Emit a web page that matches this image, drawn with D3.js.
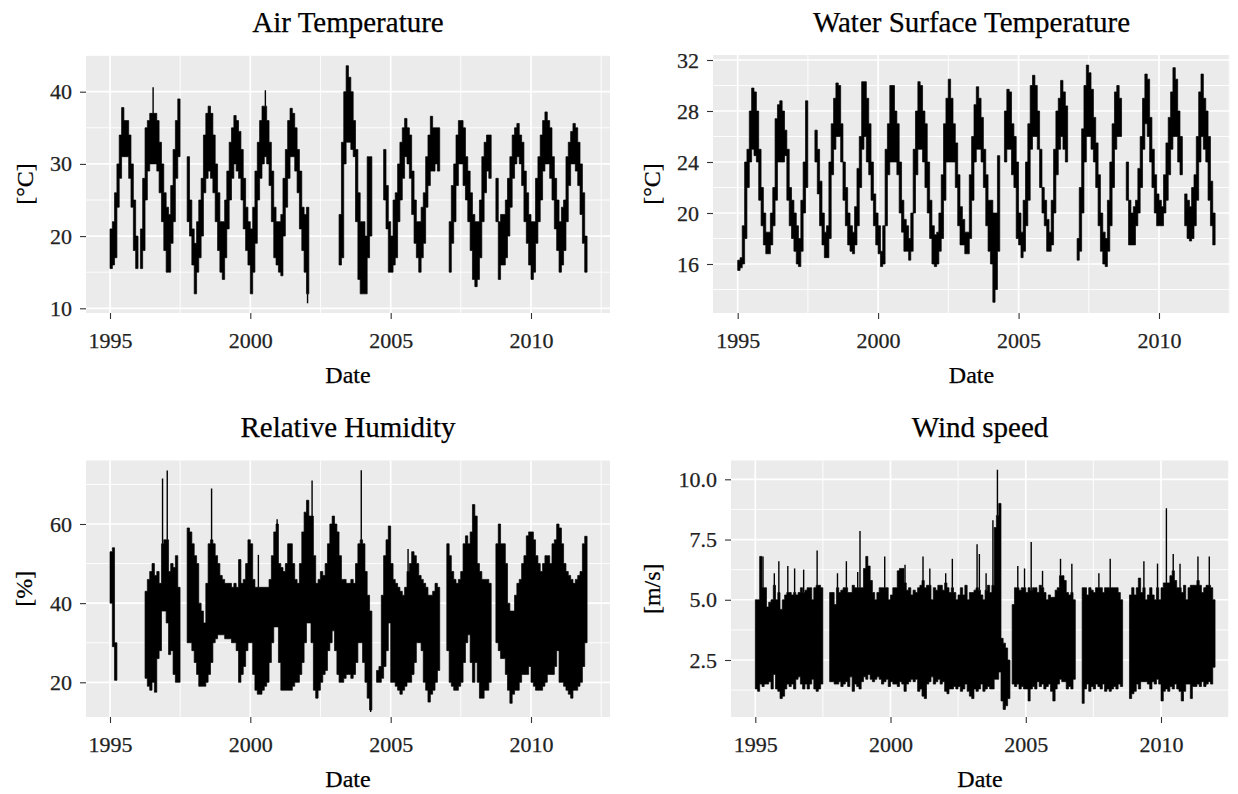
<!DOCTYPE html>
<html>
<head>
<meta charset="utf-8">
<script src="https://cdn.jsdelivr.net/npm/d3@7"></script>
<style>
  body { margin: 0; background: #fff; }
  text { font-family: "Liberation Serif", "Times New Roman", serif; }
</style>
</head>
<body>
<svg id="chart"></svg>
<script>
const W = 1238, H = 794;
const N = null;

// monthly values, Jan 1995 .. Dec 2011 (low / high of each month)
const firstMonth = "1995-01", lastMonth = "2011-12";
const xTicks = [1995, 2000, 2005, 2010];

const airTicks = [10, 20, 30, 40];
const airLo = [
  15.5,16,17,24,28,31,31,31,28,24,18,15.5,
  N,15.5,18,25,29,30,30,30,29,26,22,18,
  15,15,19,22,28,31,N,N,N,22,20,16,
  12,15,17,20,26,28,29,28,26,22,18,15,
  14,17,21,25,28,30,29,28,25,21,18,16,
  12,15,19,25,28,30,31,30,27,22,17,16,
  15,14.5,20,24,28,31,31,29,26,21,18,15,
  12,N,N,N,N,N,N,N,N,N,N,N,
  N,N,16,17,30,33,33,32,31,22,14,12,
  12,12,17,20,N,N,N,N,N,25,21,15,
  15,16,17,22,25,28,31,30,28,23,19,17,
  15,17,19,24,27,29,29,30,29,N,N,N,
  N,15,19,22,27,30,30,27,25,22,18,14,
  13,14,17,22,26,29,28,N,N,22,14,16,
  16,17,20,24,28,30,31,30,27,22,19,16,
  14,15,19,22,25,29,30,30,28,25,21,18,
  15,16,18,22,27,30,30,29,27,23,19,15
];
const airHi = [
  21,22,26,30,34,37.8,36,36,34,30,25,20,
  N,21,28,35,36,37,37,37,36,33,30,26,
  24,23,27,32,36,39,N,N,N,31,25,21,
  19,22,25,28,34,37,38,37,34,30,26,22,
  22,25,29,33,35,36.7,36,34.5,32,28,24,22,
  21,24,29,33,36,38,38,36,33,29,24,22,
  22,23,28,32,36,37.7,37,35,32,29,24,23,
  24,N,N,N,N,N,N,N,N,N,N,N,
  N,N,23,33,40,43.6,42,40,36,32,26,22,
  22,20,31,31,N,N,N,N,N,32,27,22,
  20,25,26,30,33,35,36.3,35,34,29,25,22,
  22,24,26,31,34,36.6,35,35,35,N,N,N,
  N,22,27,30,34,36,36,35,31,29,26,23,
  22,22,25,31,33,34,34,N,N,28,22,23,
  23,25,28,31,34,35,35.6,34,33,29,26,23,
  22,22,28,31,34,36,37.2,36,35,31,28,25,
  22,24,25,31,33,34.5,35.6,35,33,30,26,20
];
const airSpikes = [["1996-07", 40.6], ["2000-07", 40.2], ["2002-01", 10.7]];

const waterTicks = [16, 20, 24, 28, 32];
const waterLo = [
  15.5,15.7,16,18,22,24,25,24.5,24,21,19,17.5,
  16.8,16.8,17.5,19,21,24,24,24,24.5,21,19,18,
  17,16,15.8,17,20,22,N,N,N,24,21.5,19,
  17.5,16.5,16.5,18,23,25,26,26,24,21,19,17.5,
  17,16.8,17.5,19,22,25,26,24,23,21,19,17.5,
  16.8,15.8,16,19,23,24,24,24,23,20,18.5,17,
  17,16.3,17,20,23,25,25,24,22,20,18,16,
  15.8,16,17,18,21,24,24,24,24,22,19,17.5,
  17.5,16.8,16.8,18,21,24,25,25,24,22,19,17,
  16,13,14,17,N,N,24,25,25,23,22,18,
  17.5,16.5,17,19,21,25,26,26,25,22,20,19,
  17,17,17.5,20,23,25,26,25,24,N,N,N,
  N,16.3,17,20,24,26,26,25,24,22,19,17,
  16,15.8,17,19,22,25,26,26,N,N,21,17.5,
  17.5,17.5,19,20,22,25,27,26,24,22,20,19,
  19,19,20,21,23,25,26,26,24,23,N,19,
  18,17.8,18,19,21,24,26,25,24,21,19,17.5
];
const waterHi = [
  16.3,16.5,19,24,25,28,29.8,29.5,28,25,22,20,
  18.5,18.5,20,22,27.4,28.5,28.8,28,26.5,25,22,21,
  20,19,18,21,24,28.8,N,N,N,26.5,25,22.5,
  20,18.5,19,24,27,29,30.2,30,27,24,22,20,
  19,18.5,20.5,23.5,26,30.3,30.3,29,27,24,21.5,20,
  19,17,19,25,27,30,30,28,27,24,21,19.5,
  19,18,20,25,28,30.3,30,28,27,24,21,19,
  18.3,18.5,20,23,27,29,30.5,29,27,25.5,23,20.5,
  19.5,18.5,18.5,23,26,28.5,29.9,29,27.5,25,23,21,
  21,20,20,24.5,N,N,28,29.7,29.5,27,26,24,
  20,18.5,21,24,27,30,30.8,30,28,25,22,21,
  19.5,18.5,21,25,28,29,30.4,29.5,28.4,N,N,N,
  N,18,22,26.6,30,31.6,31,29.7,27.5,25.5,23,20,
  18.5,18,21,24,27,29.5,30,29,N,N,24,21,
  20,20.5,21,23.5,26,29,30.9,30.5,27.5,25,23,21.5,
  21,20.5,23,25.5,27.5,29.5,31.4,30.5,28,26,N,21.5,
  21,20.5,22,23,26,29.5,30.9,29,28,26,22.5,20
];
const waterSpikes = [];

const rhTicks = [20, 40, 60];
const rhLo = [
  40,29,20.5,N,N,N,N,N,N,N,N,N,
  N,N,N,21,19,18,20,17.5,26,28,38,38,
  35,27,28,22,20,20,N,N,N,30,30,28,
  25,22,19,19,19,20,22,25,30,31,32,32,
  32,31,31,31,30,30,28,20,22,24,28,30,
  30,22,18,17,17,18,19,20,25,30,34,34,
  25,18,18,18,18,18,19,20,20,22,25,30,
  35,35,30,18,16,18,20,22,23,28,30,33,
  28,22,20,20,21,22,22,21,22,25,30,30,
  25,20,16,13,N,N,20,20,21,24,28,35,
  20,20,19,18,17,18,19,20,20,22,25,30,
  30,28,20,18,15,17,18,20,23,N,N,N,
  28,20,19,18,18,19,20,25,30,32,25,20,
  25,20,16,16,18,18,20,N,N,30,28,26,
  26,22,18,14.7,17,18,18,20,22,22,22,24,
  20,19,18,18,18,19,20,22,22,22,24,28,
  20,20,19,18,17,16,18,18,19,20,24,30
];
const rhHi = [
  53,54,30,N,N,N,N,N,N,N,N,N,
  N,N,N,43,46,48,50,47,48,45,55,56,
  56,48,50,49,52,44,N,N,N,59,58,55,
  52,50,40,38,35,45,55,56,55,52,50,47,
  46,45,45,45,44,45,44,51,45,46,50,56,
  55,46,44,44,44,44,44,44,46,52,58,60,
  50,49,48,50,55,55,50,46,45,50,58,63,
  66,62,62,52,45,46,48,47,50,55,60,62,
  60,58,52,46,46,45,45,46,45,50,55,56,
  55,48,42,38,N,N,23,24,42,52,56,59.5,
  50,46,45,44,43,42,44,48,50,53,52,50,
  47,46,45,44,42,42,43,45,44,N,N,N,
  55,52,48,46,45,46,48,55,57,55,58,64.9,
  62,50,48,46,46,46,45,N,N,55,60,55,
  55,50,40,38,38,42,45,46,50,52,57,58,
  58,56,52,50,48,50,52,52,50,55,56,60,
  59,55,50,48,47,46,45,46,47,48,55,56.9
];
const rhSpikes = [["1996-11", 71.5], ["1997-01", 73.5], ["1998-08", 69], ["2000-04", 52.2],
  ["2000-12", 61.2], ["2002-03", 71], ["2003-12", 73.6], ["2004-04", 12.5], ["2005-08", 53.7]];

const windTicks = [2.5, 5, 7.5, 10];
const windLo = [
  1.3,1.2,1.5,1.4,1.5,1.5,1.6,1.3,1.9,1.3,1.2,0.9,
  1.0,1.3,1.5,1.4,1.5,1.3,1.7,1.8,1.5,1.3,1.5,1.3,
  1.5,1.7,1.3,1.2,1.3,1.5,N,N,N,1.6,1.6,1.5,
  1.5,1.6,1.4,1.5,1.6,1.4,1.8,1.2,1.5,1.4,1.3,1.6,
  1.8,1.7,1.9,1.7,1.6,1.7,1.8,1.7,1.5,1.6,1.7,1.4,
  1.6,1.5,1.5,1.4,1.6,1.5,1.2,1.5,1.6,1.7,1.6,1.7,
  1.2,1.3,1.0,0.9,1.5,1.6,1.8,1.5,1.6,1.7,1.5,1.6,
  1.2,1.1,1.3,1.3,1.4,1.3,1.4,1.2,1.3,1.5,1.2,1.0,
  0.9,1.3,1.2,1.3,1.5,1.2,1.3,1.4,1.3,1.3,1.7,1.7,
  2.0,0.8,0.45,0.6,0.9,N,1.5,1.4,1.5,1.3,1.4,1.3,
  1.3,0.8,1.3,1.4,1.3,1.6,1.4,1.5,1.3,1.4,1.5,1.2,
  0.8,1.3,1.5,1.7,1.6,1.6,1.3,1.4,1.3,1.7,N,N,
  N,0.7,1.3,1.5,1.2,1.4,1.3,1.5,1.4,1.3,1.5,1.2,
  1.3,1.2,1.3,1.4,1.3,1.5,1.4,N,N,N,0.9,1.1,
  1.2,1.5,1.3,1.6,1.6,1.6,1.5,1.3,1.6,1.5,1.7,1.5,
  0.8,1.2,1.3,1.2,1.4,1.3,1.5,1.3,1.2,0.8,1.2,1.5,
  1.5,0.9,1.4,1.4,1.5,1.4,1.6,1.4,1.5,1.6,1.5,2.2
];
const windHi = [
  5.0,5.0,6.8,5.5,5.5,4.7,4.9,5.0,5.6,5.0,5.3,4.6,
  5.0,5.2,5.3,5.3,5.2,5.3,5.2,5.3,5.5,5.3,5.4,5.5,
  5.5,5.0,5.5,5.6,5.6,5.5,N,N,N,5.3,5.3,4.8,
  5.5,5.3,5.4,5.5,5.5,5.3,5.3,5.6,5.5,5.5,5.5,5.5,
  6.3,6.8,6.4,5.8,5.3,5.0,5.3,5.5,5.5,5.5,5.5,5.0,
  5.2,5.5,5.5,6.2,6.3,6.3,5.7,5.4,5.5,5.2,5.4,5.3,
  5.5,5.6,5.8,5.5,5.6,5.6,5.0,5.5,5.4,5.6,5.6,5.4,
  5.7,5.5,5.3,5.5,5.3,5.0,5.2,5.5,5.2,5.6,5.0,5.3,
  5.3,5.4,5.5,5.4,5.2,5.0,5.4,5.6,5.3,5.6,8.0,8.5,
  9.0,3.4,3.2,3.0,2.5,N,4.8,5.5,5.5,5.4,5.5,5.5,
  5.3,5.5,5.4,5.5,5.5,5.3,5.6,5.5,5.3,5.0,5.2,5.1,
  5.1,5.4,5.5,6.0,6.0,5.8,5.3,5.2,5.3,5.0,N,N,
  N,5.5,5.5,5.2,5.5,5.4,5.3,5.5,5.5,5.5,5.3,5.5,
  5.5,5.5,5.5,5.5,5.5,5.3,5.0,N,N,N,5.2,5.5,
  5.2,5.5,5.9,5.3,5.5,5.0,5.2,5.5,5.2,5.0,5.5,5.0,
  5.5,5.7,5.7,5.7,6.0,6.2,5.8,5.5,5.5,5.3,5.6,5.0,
  5.5,5.6,5.6,5.6,5.8,5.6,5.3,5.5,5.6,5.6,5.5,5.0
];
const windSpikes = [["1995-04",6.8],["1995-09",6.1],["1995-11",6.6],["1996-03",6.4],["1996-06",6.3],
  ["1996-10",6.25],["1997-04",7.05],["1998-01",6.1],["1998-05",6.6],["1998-10",6.15],["1998-11",7.85],
  ["1999-10",6.8],["2000-07",6.45],["2001-03",6.8],["2001-06",6.3],["2002-01",6.1],["2002-04",6.7],
  ["2003-03",7.3],["2003-04",6.9],["2003-07",6.1],["2003-10",8.3],["2003-12",10.4],["2004-09",6.4],
  ["2004-12",6.3],["2005-03",7.4],["2005-08",6.2],["2006-04",6.7],["2006-09",6.5],["2007-09",6.1],
  ["2008-02",6.7],["2009-05",6.6],["2009-11",6.5],["2010-03",8.8],["2010-06",6.9],["2010-09",6.5],
  ["2011-05",6.8],["2011-10",6.8]];

const parseMonth = d3.timeParse("%Y-%m");
const months = d3.timeMonth.range(parseMonth(firstMonth), d3.timeMonth.offset(parseMonth(lastMonth), 1));

const panels = [
  { title: "Air Temperature", ylab: "[°C]", lo: airLo, hi: airHi, spikes: airSpikes, ticks: airTicks,
    fmt: d3.format("d"), box: [86, 610, 55, 313], xPx: [110, 531], yPx: [308.3, 91.7], ylabX: 33, titleY: 32 },
  { title: "Water Surface Temperature", ylab: "[°C]", lo: waterLo, hi: waterHi, spikes: waterSpikes, ticks: waterTicks,
    fmt: d3.format("d"), box: [713, 1230, 55, 313], xPx: [737.7, 1159], yPx: [264, 60], ylabX: 660, titleY: 32 },
  { title: "Relative Humidity", ylab: "[%]", lo: rhLo, hi: rhHi, spikes: rhSpikes, ticks: rhTicks,
    fmt: d3.format("d"), box: [86, 610, 460.5, 717], xPx: [110, 531], yPx: [682.3, 524], ylabX: 32, titleY: 437 },
  { title: "Wind speed", ylab: "[m/s]", lo: windLo, hi: windHi, spikes: windSpikes, ticks: windTicks,
    fmt: d3.format(".1f"), box: [731, 1229, 460.5, 717], xPx: [755.3, 1161], yPx: [660, 479.3], ylabX: 660, titleY: 437 }
];

const svg = d3.select("#chart").attr("width", W).attr("height", H);
svg.append("rect").attr("width", W).attr("height", H).attr("fill", "#fff");

panels.forEach((p, pi) => {
  const [x0, x1, y0, y1] = p.box;
  const x = d3.scaleTime()
    .domain([new Date(xTicks[0], 0, 1), new Date(xTicks[xTicks.length - 1], 0, 1)])
    .range(p.xPx);
  const y = d3.scaleLinear()
    .domain([p.ticks[0], p.ticks[p.ticks.length - 1]])
    .range(p.yPx);

  const g = svg.append("g");
  g.append("rect").attr("x", x0).attr("y", y0).attr("width", x1 - x0).attr("height", y1 - y0)
    .attr("fill", "#ebebeb");

  // grid
  const step = p.ticks[1] - p.ticks[0];
  const vTop = y.invert(y0), vBot = y.invert(y1);
  const yMinor = d3.range(p.ticks[0] - step * 5.5, vTop + step, step).filter(v => v > vBot && v < vTop);
  const xMinor = [1992, 1997, 2002, 2007, 2012].map(yr => new Date(yr, 6, 2))
    .filter(d => x(d) > x0 && x(d) < x1);
  const xMajor = xTicks.map(yr => new Date(yr, 0, 1));

  g.selectAll(".ymin").data(yMinor).join("line")
    .attr("x1", x0).attr("x2", x1).attr("y1", d => y(d)).attr("y2", d => y(d))
    .attr("stroke", "#fff").attr("stroke-width", 0.9);
  g.selectAll(".xmin").data(xMinor).join("line")
    .attr("x1", d => x(d)).attr("x2", d => x(d)).attr("y1", y0).attr("y2", y1)
    .attr("stroke", "#fff").attr("stroke-width", 0.9);
  g.selectAll(".ymaj").data(p.ticks).join("line")
    .attr("x1", x0).attr("x2", x1).attr("y1", d => y(d)).attr("y2", d => y(d))
    .attr("stroke", "#fff").attr("stroke-width", 1.7);
  g.selectAll(".xmaj").data(xMajor).join("line")
    .attr("x1", d => x(d)).attr("x2", d => x(d)).attr("y1", y0).attr("y2", y1)
    .attr("stroke", "#fff").attr("stroke-width", 1.7);

  // series: monthly low-high band drawn as a stepped area
  const clipId = "clip" + pi;
  svg.append("clipPath").attr("id", clipId).append("rect")
    .attr("x", x0).attr("y", y0).attr("width", x1 - x0).attr("height", y1 - y0);
  const pts = [];
  months.forEach((m, i) => {
    if (p.lo[i] == null) { pts.push({ t: m, lo: null, hi: null }); return; }
    pts.push({ t: m, lo: p.lo[i], hi: p.hi[i] });
    pts.push({ t: d3.timeMonth.offset(m, 1), lo: p.lo[i], hi: p.hi[i] });
  });
  const area = d3.area()
    .defined(d => d.lo != null)
    .x(d => x(d.t))
    .y0(d => y(d.lo))
    .y1(d => y(d.hi));
  const series = g.append("g").attr("clip-path", `url(#${clipId})`);
  series.append("path").datum(pts).attr("d", area)
    .attr("fill", "#000").attr("stroke", "#000").attr("stroke-width", 0.7)
    .attr("stroke-linejoin", "miter");

  const spikeData = p.spikes.map(([ms, v]) => {
    const m = parseMonth(ms);
    const i = months.findIndex(d => +d === +m);
    const base = v > p.hi[i] ? p.hi[i] : p.lo[i];
    return { x: x(d3.timeDay.offset(m, 14)), v, base };
  });
  series.selectAll("line.spk").data(spikeData).join("line")
    .attr("x1", d => d.x).attr("x2", d => d.x)
    .attr("y1", d => y(d.base)).attr("y2", d => y(d.v))
    .attr("stroke", "#000").attr("stroke-width", 1.4);

  // axes
  const ax = g.append("g").attr("transform", `translate(0,${y1})`)
    .call(d3.axisBottom(x).tickValues(xMajor).tickFormat(d3.timeFormat("%Y")).tickSize(6).tickPadding(13));
  const ay = g.append("g").attr("transform", `translate(${x0},0)`)
    .call(d3.axisLeft(y).tickValues(p.ticks).tickFormat(p.fmt).tickSize(6).tickPadding(8));
  [ax, ay].forEach(a => {
    a.select(".domain").remove();
    a.selectAll(".tick line").attr("stroke", "#333").attr("stroke-width", 1.1);
    a.selectAll(".tick text").attr("fill", "#222").attr("font-size", 22)
      .attr("stroke", "#222").attr("stroke-width", 0.25)
      .attr("font-family", '"Liberation Serif", serif');
  });

  // titles
  const cx = (x0 + x1) / 2;
  g.append("text").attr("x", cx).attr("y", p.titleY).attr("text-anchor", "middle")
    .attr("font-size", 29).attr("fill", "#000").attr("stroke", "#000").attr("stroke-width", 0.25)
    .text(p.title);
  g.append("text").attr("x", cx).attr("y", y1 + 70).attr("text-anchor", "middle")
    .attr("font-size", 24).attr("fill", "#000").attr("stroke", "#000").attr("stroke-width", 0.25)
    .text("Date");
  g.append("text").attr("transform", `translate(${p.ylabX},${(y0 + y1) / 2}) rotate(-90)`)
    .attr("text-anchor", "middle").attr("font-size", 24).attr("fill", "#000")
    .attr("stroke", "#000").attr("stroke-width", 0.25).text(p.ylab);
});
</script>
</body>
</html>
